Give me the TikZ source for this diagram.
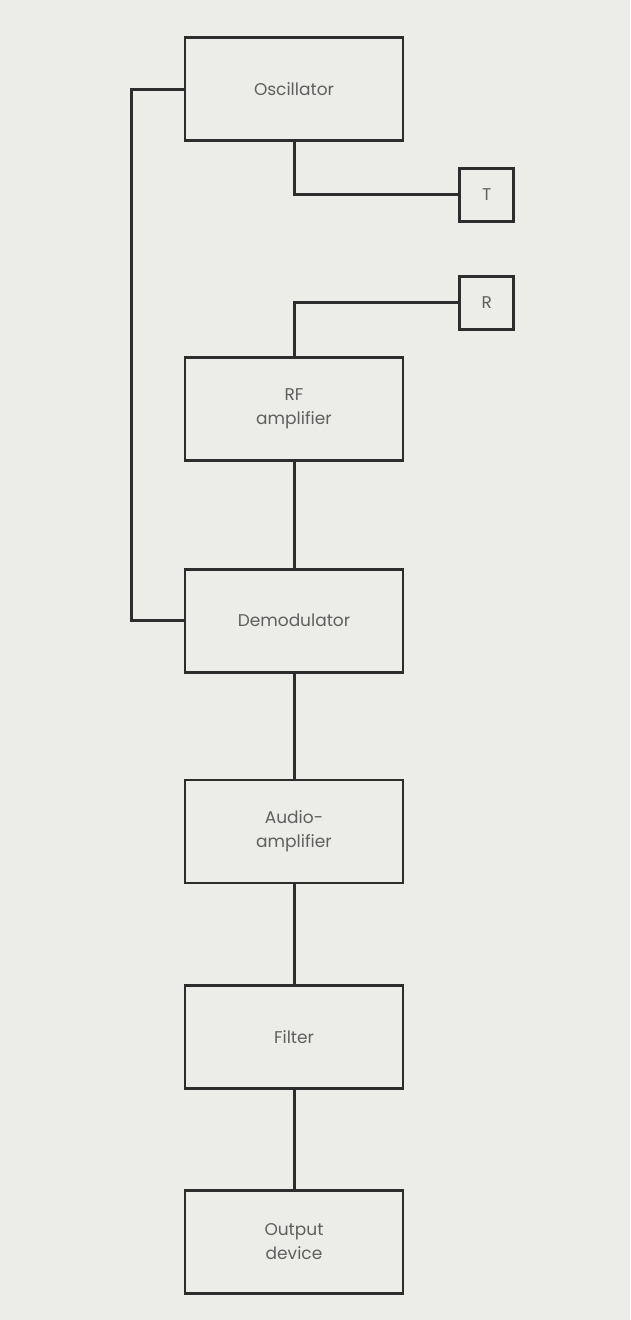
\documentclass[tikz,border=0pt]{standalone}
\usepackage{fontspec}
\setmainfont{Poppins}
\usetikzlibrary{positioning,calc}
\definecolor{figpaper}{RGB}{236,236,232}
\definecolor{figink}{RGB}{45,45,45}
\definecolor{figtext}{RGB}{95,95,95}
\tikzset{
  fig/.style={font=\fontsize{17}{24}\selectfont},
  blk/.style={draw=figink,line width=2.8pt,minimum width=218pt,minimum height=103pt,
              align=center,inner sep=2pt,text=figtext},
  sq/.style={draw=figink,line width=2.8pt,minimum width=54pt,minimum height=53pt,
             inner sep=0pt,text=figtext},
  wire/.style={draw=figink,line width=3pt},
}

\begin{document}
\begin{tikzpicture}[fig,x=1pt,y=1pt]

\fill[figpaper] (0,0) rectangle (630,-1320);
\useasboundingbox (0,0) rectangle (630,-1320);

\node[blk] (osc) at (294,-89) {Oscillator};
\node[blk,below=214pt of osc] (rf) {RF\\amplifier};
\node[blk,below=106pt of rf] (dem) {Demodulator};
\node[blk,below=105pt of dem] (aud) {Audio-\\amplifier};
\node[blk,below=100pt of aud] (flt) {Filter};
\node[blk,below=99pt of flt] (out) {Output\\device};

\node[sq,below right=25pt and 54pt of osc.south east,anchor=north west] (tx) {T};
\node[sq,below=52pt of tx] (rx) {R};

% transmit / receive
\draw[wire] (osc.south) |- (tx.west);
\draw[wire] (rx.west) -| (rf.north);

% oscillator to demodulator
\coordinate (fb) at ($(osc.west)+(-52pt,0)$);
\draw[wire] (osc.west) -- (fb) |- (dem.west);

\draw[wire] (rf) -- (dem);
\draw[wire] (dem) -- (aud);
\draw[wire] (aud) -- (flt);
\draw[wire] (flt) -- (out);

\end{tikzpicture}
\end{document}
